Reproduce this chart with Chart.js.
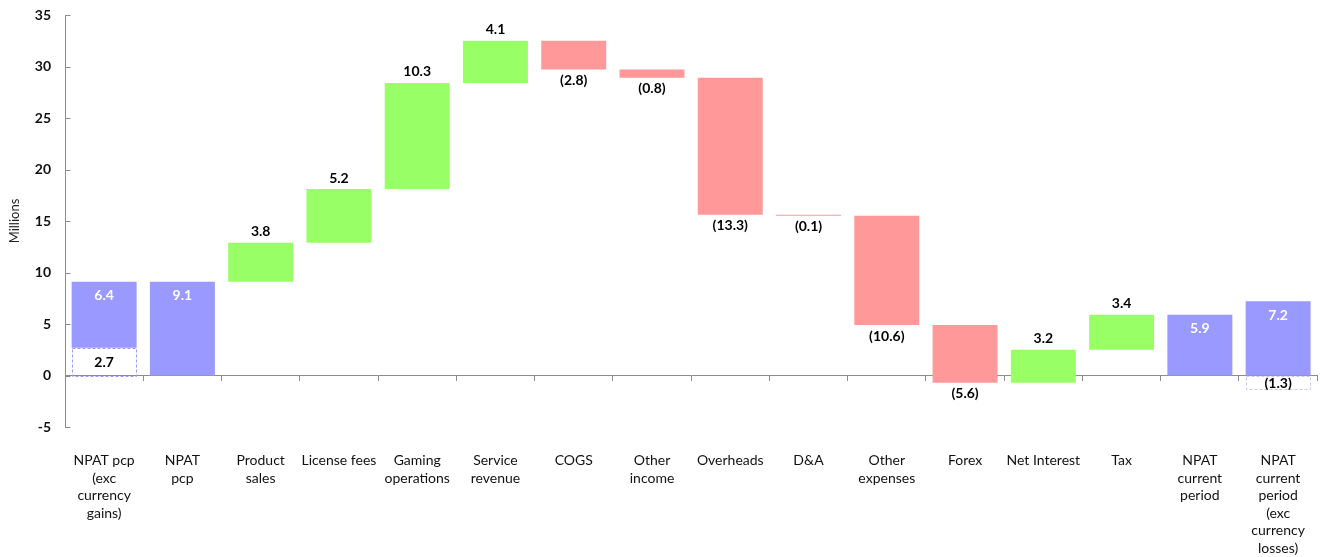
<!DOCTYPE html>
<html>
<head>
<meta charset="utf-8">
<script src="https://cdn.jsdelivr.net/npm/chart.js@4"></script>
<style>
  html, body { margin: 0; padding: 0; background: #fff; }
  #wrap { width: 1322px; height: 557px; }
</style>
</head>
<body>
<div id="wrap"><canvas id="chart-waterfall"></canvas></div>
<script>
// Waterfall steps (millions)
const categories = [
  ['NPAT pcp', '(exc', 'currency', 'gains)'],
  ['NPAT', 'pcp'],
  ['Product', 'sales'],
  'License fees',
  ['Gaming', 'operations'],
  ['Service', 'revenue'],
  'COGS',
  ['Other', 'income'],
  'Overheads',
  'D&A',
  ['Other', 'expenses'],
  'Forex',
  'Net Interest',
  'Tax',
  ['NPAT', 'current', 'period'],
  ['NPAT', 'current', 'period', '(exc', 'currency', 'losses)'],
];
const barStart = [2.7, 0, 9.1, 12.9, 18.1, 28.4, 32.5, 29.7, 28.9, 15.6, 15.5, 4.9, -0.7, 2.5, 0, 0];
const barEnd = [9.1, 9.1, 12.9, 18.1, 28.4, 32.5, 29.7, 28.9, 15.6, 15.5, 4.9, -0.7, 2.5, 5.9, 5.9, 7.2];
const barKind = ['total', 'total', 'up', 'up', 'up', 'up', 'down', 'down', 'down', 'down', 'down', 'down', 'up', 'up', 'total', 'total'];
// currency adjustments, drawn as dashed boxes
const adjStart = [0, null, null, null, null, null, null, null, null, null, null, null, null, null, null, -1.3];
const adjEnd = [2.7, null, null, null, null, null, null, null, null, null, null, null, null, null, null, 0];
const yTicks = [-5, 0, 5, 10, 15, 20, 25, 30, 35];

const colors = { total: '#9999ff', up: '#99ff66', down: '#ff9999' };
const FONT = 'Lato, "Open Sans", sans-serif';
const AXIS = '#8c8c8c';

function fmt(v) {
  const s = Math.abs(v).toFixed(1);
  return v < 0 ? `(${s})` : s;
}

const labelPlugin = {
  id: 'waterfallLabels',
  afterDatasetsDraw(chart) {
    const { ctx, scales: { y } } = chart;
    const main = chart.getDatasetMeta(0);
    const adj = chart.getDatasetMeta(1);
    ctx.save();
    ctx.textAlign = 'center';
    ctx.textBaseline = 'middle';

    // dashed adjustment boxes
    adj.data.forEach((el, i) => {
      if (adjStart[i] === null) return;
      const top = y.getPixelForValue(Math.max(adjStart[i], adjEnd[i]));
      const bot = y.getPixelForValue(Math.min(adjStart[i], adjEnd[i]));
      const left = el.x - el.width / 2;
      ctx.setLineDash([3, 2]);
      ctx.lineWidth = 1;
      ctx.strokeStyle = i === 0 ? '#9999ff' : '#c8c8f0';
      ctx.strokeRect(Math.round(left) + 0.5, Math.round(top) + 0.5, Math.round(el.width) - 1, Math.round(bot - top));
      ctx.setLineDash([]);
      ctx.fillStyle = '#000';
      ctx.font = `bold 14px ${FONT}`;
      const v = adjEnd[i] - adjStart[i];
      ctx.fillText(fmt(i === 0 ? v : -v), el.x, (top + bot) / 2 + 1);
    });

    main.data.forEach((el, i) => {
      const hi = y.getPixelForValue(Math.max(barStart[i], barEnd[i]));
      const lo = y.getPixelForValue(Math.min(barStart[i], barEnd[i]));
      const v = barEnd[i] - barStart[i];
      ctx.font = `bold 14px ${FONT}`;
      if (barKind[i] === 'total') {
        ctx.fillStyle = '#fff';
        ctx.fillText(fmt(v), el.x, hi + 14);
      } else if (barKind[i] === 'up') {
        ctx.fillStyle = '#000';
        ctx.fillText(fmt(v), el.x, hi - 11);
      } else {
        ctx.fillStyle = '#000';
        ctx.fillText(fmt(v), el.x, lo + 11);
      }
    });

    // inward tick marks on the value axis
    ctx.strokeStyle = AXIS;
    ctx.lineWidth = 1;
    const x0 = Math.round(y.right) + 0.5;
    yTicks.forEach(t => {
      const py = Math.round(y.getPixelForValue(t)) + 0.5;
      ctx.beginPath();
      ctx.moveTo(x0, py);
      ctx.lineTo(x0 + 5, py);
      ctx.stroke();
    });
    ctx.restore();
  },
};

new Chart(document.getElementById('chart-waterfall'), {
  type: 'bar',
  data: {
    labels: categories,
    datasets: [
      {
        label: 'Movement',
        data: barStart.map((s, i) => [s, barEnd[i]]),
        backgroundColor: barKind.map(k => colors[k]),
        borderWidth: 0,
        grouped: false,
        order: 1,
      },
      {
        label: 'Currency adjustment',
        data: adjStart.map((s, i) => (s === null ? null : [s, adjEnd[i]])),
        backgroundColor: 'rgba(255,255,255,0)',
        borderWidth: 0,
        grouped: false,
        order: 0,
      },
    ],
  },
  options: {
    responsive: true,
    maintainAspectRatio: false,
    animation: false,
    categoryPercentage: 1,
    barPercentage: 0.83,
    layout: { padding: { top: 0, right: 4, left: 0, bottom: 0 } },
    plugins: {
      legend: { display: false },
      tooltip: { enabled: false },
    },
    scales: {
      x: {
        type: 'category',
        position: { y: 0 },
        offset: true,
        grid: {
          offset: true,
          drawOnChartArea: false,
          drawTicks: true,
          tickLength: 5,
          color: AXIS,
        },
        border: { display: true, color: AXIS },
        ticks: { display: false },
      },
      x2: {
        type: 'category',
        position: 'bottom',
        offset: true,
        grid: { display: false },
        border: { display: false },
        ticks: {
          padding: 17,
          maxRotation: 0,
          autoSkip: false,
          color: '#111',
          font: { family: FONT, size: 14, lineHeight: 1.25 },
        },
        afterFit(scale) { scale.height = 130; },
      },
      y: {
        min: -5,
        max: 35,
        afterBuildTicks(scale) { scale.ticks = yTicks.map(v => ({ value: v })); },
        grid: { display: false, drawTicks: false },
        border: { display: true, color: AXIS },
        ticks: {
          padding: 14,
          color: '#111',
          font: { family: FONT, size: 14, weight: 'bold' },
        },
        title: {
          display: true,
          text: 'Millions',
          color: '#222',
          padding: { top: 7, bottom: 0 },
          font: { family: FONT, size: 13 },
        },
        afterFit(scale) {
          scale.width = 65;
          scale.paddingTop = 15;
        },
      },
    },
  },
  plugins: [labelPlugin],
});
</script>
</body>
</html>
